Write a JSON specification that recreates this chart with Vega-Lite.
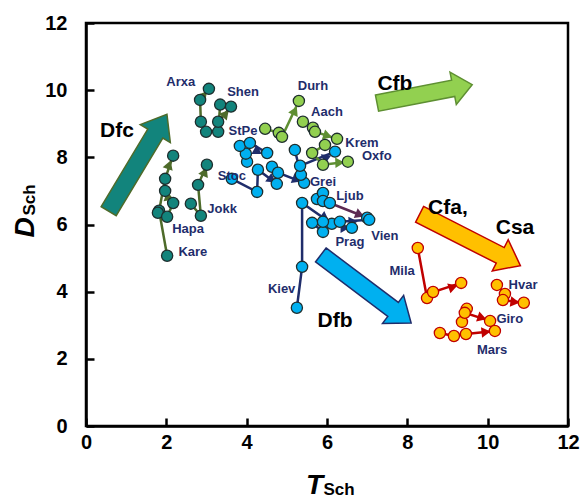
{
  "$schema": "https://vega.github.io/schema/vega-lite/v6.json",
  "width": 482,
  "height": 403,
  "autosize": {"type": "none"},
  "padding": {"left": 86, "top": 23, "right": 17, "bottom": 73},
  "background": "white",
  "config": {"view": {"stroke": "black", "strokeWidth": 2.5}, "font": "Liberation Sans"},
  "datasets": {
    "big": [
      {"zone": "Dfc", "T": 1.29, "D": 7.84, "heading": -59},
      {"zone": "Dfb", "T": 6.97, "D": 4.08, "heading": 37},
      {"zone": "Cfa", "T": 9.56, "D": 5.54, "heading": 27}
    ],
    "big2": [
      {"zone": "Cfb", "T": 8.43, "D": 9.89, "heading": -11}
    ],
    "traj": [
      {"city": "Kare", "zone": "Dfc", "s": 1, "T": 2.02, "D": 5.07},
      {"city": "Kare", "zone": "Dfc", "s": 2, "T": 1.82, "D": 6.41},
      {"city": "Kare", "zone": "Dfc", "s": 3, "T": 1.97, "D": 7.36},
      {"city": "Kare", "zone": "Dfc", "s": 4, "T": 2.17, "D": 8.05},
      {"city": "Hapa", "zone": "Dfc", "s": 1, "T": 1.79, "D": 6.35},
      {"city": "Hapa", "zone": "Dfc", "s": 2, "T": 2.02, "D": 6.23},
      {"city": "Hapa", "zone": "Dfc", "s": 3, "T": 2.17, "D": 6.64},
      {"city": "Hapa", "zone": "Dfc", "s": 4, "T": 1.97, "D": 7.0},
      {"city": "Jokk", "zone": "Dfc", "s": 1, "T": 2.61, "D": 6.62},
      {"city": "Jokk", "zone": "Dfc", "s": 2, "T": 2.86, "D": 6.26},
      {"city": "Jokk", "zone": "Dfc", "s": 3, "T": 2.79, "D": 7.18},
      {"city": "Jokk", "zone": "Dfc", "s": 4, "T": 3.01, "D": 7.78},
      {"city": "Arxa", "zone": "Dfc", "s": 1, "T": 2.99, "D": 8.76},
      {"city": "Arxa", "zone": "Dfc", "s": 2, "T": 2.86, "D": 9.06},
      {"city": "Arxa", "zone": "Dfc", "s": 3, "T": 2.84, "D": 9.71},
      {"city": "Arxa", "zone": "Dfc", "s": 4, "T": 3.06, "D": 10.04},
      {"city": "Shen", "zone": "Dfc", "s": 1, "T": 3.34, "D": 9.57},
      {"city": "Shen", "zone": "Dfc", "s": 2, "T": 3.29, "D": 8.76},
      {"city": "Shen", "zone": "Dfc", "s": 3, "T": 3.29, "D": 9.06},
      {"city": "Shen", "zone": "Dfc", "s": 4, "T": 3.61, "D": 9.51},
      {"city": "StPe", "zone": "Dfb", "s": 1, "T": 4.01, "D": 7.87},
      {"city": "StPe", "zone": "Dfb", "s": 2, "T": 3.98, "D": 8.11},
      {"city": "StPe", "zone": "Dfb", "s": 3, "T": 3.83, "D": 8.34},
      {"city": "StPe", "zone": "Dfb", "s": 4, "T": 4.08, "D": 8.43},
      {"city": "StPe", "zone": "Dfb", "s": 5, "T": 4.51, "D": 8.13},
      {"city": "Stoc", "zone": "Dfb", "s": 1, "T": 3.63, "D": 7.36},
      {"city": "Stoc", "zone": "Dfb", "s": 2, "T": 4.26, "D": 6.97},
      {"city": "Stoc", "zone": "Dfb", "s": 3, "T": 4.28, "D": 7.63},
      {"city": "Stoc", "zone": "Dfb", "s": 4, "T": 4.75, "D": 7.21},
      {"city": "Grei", "zone": "Dfb", "s": 1, "T": 4.63, "D": 7.72},
      {"city": "Grei", "zone": "Dfb", "s": 2, "T": 4.78, "D": 7.54},
      {"city": "Grei", "zone": "Dfb", "s": 3, "T": 5.43, "D": 7.24},
      {"city": "Krem", "zone": "Dfb", "s": 1, "T": 5.2, "D": 8.22},
      {"city": "Krem", "zone": "Dfb", "s": 2, "T": 5.35, "D": 7.48},
      {"city": "Krem", "zone": "Dfb", "s": 3, "T": 5.33, "D": 7.75},
      {"city": "Krem", "zone": "Dfb", "s": 4, "T": 6.2, "D": 8.17},
      {"city": "Kiev", "zone": "Dfb", "s": 1, "T": 5.25, "D": 3.52},
      {"city": "Kiev", "zone": "Dfb", "s": 2, "T": 5.38, "D": 4.74},
      {"city": "Kiev", "zone": "Dfb", "s": 3, "T": 5.38, "D": 6.64},
      {"city": "Kiev", "zone": "Dfb", "s": 4, "T": 6.12, "D": 6.02},
      {"city": "Ljub", "zone": "Dfb", "s": 1, "T": 5.75, "D": 6.76},
      {"city": "Ljub", "zone": "Dfb", "s": 2, "T": 5.9, "D": 6.94},
      {"city": "Ljub", "zone": "Dfb", "s": 3, "T": 5.9, "D": 6.7},
      {"city": "Ljub", "zone": "Dfb", "s": 4, "T": 6.07, "D": 6.64},
      {"city": "Ljub", "zone": "Dfb", "s": 5, "T": 7.0, "D": 6.2},
      {"city": "Prag", "zone": "Dfb", "s": 1, "T": 5.63, "D": 6.05},
      {"city": "Prag", "zone": "Dfb", "s": 2, "T": 5.9, "D": 5.78},
      {"city": "Prag", "zone": "Dfb", "s": 3, "T": 5.9, "D": 6.08},
      {"city": "Prag", "zone": "Dfb", "s": 4, "T": 6.62, "D": 5.9},
      {"city": "Vien", "zone": "Dfb", "s": 1, "T": 6.32, "D": 6.08},
      {"city": "Vien", "zone": "Dfb", "s": 2, "T": 7.05, "D": 6.14},
      {"city": "Durh", "zone": "Cfb", "s": 1, "T": 4.46, "D": 8.85},
      {"city": "Durh", "zone": "Cfb", "s": 2, "T": 4.8, "D": 8.73},
      {"city": "Durh", "zone": "Cfb", "s": 3, "T": 4.88, "D": 8.61},
      {"city": "Durh", "zone": "Cfb", "s": 4, "T": 5.3, "D": 9.68},
      {"city": "Aach", "zone": "Cfb", "s": 1, "T": 5.4, "D": 9.06},
      {"city": "Aach", "zone": "Cfb", "s": 2, "T": 5.65, "D": 8.88},
      {"city": "Aach", "zone": "Cfb", "s": 3, "T": 5.7, "D": 8.76},
      {"city": "Aach", "zone": "Cfb", "s": 4, "T": 6.25, "D": 8.55},
      {"city": "Oxfo", "zone": "Cfb", "s": 1, "T": 5.95, "D": 8.37},
      {"city": "Oxfo", "zone": "Cfb", "s": 2, "T": 5.63, "D": 8.13},
      {"city": "Oxfo", "zone": "Cfb", "s": 3, "T": 5.9, "D": 7.78},
      {"city": "Oxfo", "zone": "Cfb", "s": 4, "T": 6.52, "D": 7.87},
      {"city": "Mila", "zone": "Cfa", "s": 1, "T": 8.26, "D": 5.3},
      {"city": "Mila", "zone": "Cfa", "s": 2, "T": 8.49, "D": 3.81},
      {"city": "Mila", "zone": "Cfa", "s": 3, "T": 8.64, "D": 3.99},
      {"city": "Mila", "zone": "Cfa", "s": 4, "T": 9.34, "D": 4.26},
      {"city": "Hvar", "zone": "Cfa", "s": 1, "T": 10.23, "D": 4.2},
      {"city": "Hvar", "zone": "Cfa", "s": 2, "T": 10.43, "D": 3.93},
      {"city": "Hvar", "zone": "Cfa", "s": 3, "T": 10.38, "D": 3.75},
      {"city": "Hvar", "zone": "Cfa", "s": 4, "T": 10.9, "D": 3.67},
      {"city": "Giro", "zone": "Cfa", "s": 1, "T": 9.48, "D": 3.49},
      {"city": "Giro", "zone": "Cfa", "s": 2, "T": 9.36, "D": 3.1},
      {"city": "Giro", "zone": "Cfa", "s": 3, "T": 9.43, "D": 3.37},
      {"city": "Giro", "zone": "Cfa", "s": 4, "T": 10.06, "D": 3.13},
      {"city": "Mars", "zone": "Cfa", "s": 1, "T": 8.81, "D": 2.77},
      {"city": "Mars", "zone": "Cfa", "s": 2, "T": 9.16, "D": 2.68},
      {"city": "Mars", "zone": "Cfa", "s": 3, "T": 9.46, "D": 2.74},
      {"city": "Mars", "zone": "Cfa", "s": 4, "T": 10.18, "D": 2.83}
    ],
    "heads": [
      {"city": "Kare", "zone": "Dfc", "T": 2.07, "D": 7.78, "heading": -71},
      {"city": "Hapa", "zone": "Dfc", "T": 2.04, "D": 6.85, "heading": -100},
      {"city": "Jokk", "zone": "Dfc", "T": 2.96, "D": 7.57, "heading": -66},
      {"city": "Arxa", "zone": "Dfc", "T": 2.94, "D": 9.86, "heading": -51},
      {"city": "Shen", "zone": "Dfc", "T": 3.48, "D": 9.3, "heading": -49},
      {"city": "StPe", "zone": "Dfb", "T": 4.28, "D": 8.17, "heading": 30},
      {"city": "Stoc", "zone": "Dfb", "T": 4.63, "D": 7.33, "heading": 36},
      {"city": "Grei", "zone": "Dfb", "T": 5.25, "D": 7.33, "heading": 21},
      {"city": "Krem", "zone": "Dfb", "T": 6.0, "D": 8.0, "heading": -23},
      {"city": "Kiev", "zone": "Dfb", "T": 5.95, "D": 6.2, "heading": 35},
      {"city": "Ljub", "zone": "Dfb", "T": 6.82, "D": 6.29, "heading": 22},
      {"city": "Prag", "zone": "Dfb", "T": 6.45, "D": 5.9, "heading": 0},
      {"city": "Vien", "zone": "Dfb", "T": 6.65, "D": 6.08, "heading": -3},
      {"city": "Durh", "zone": "Cfb", "T": 5.2, "D": 9.39, "heading": -65},
      {"city": "Aach", "zone": "Cfb", "T": 6.02, "D": 8.64, "heading": 18},
      {"city": "Oxfo", "zone": "Cfb", "T": 6.32, "D": 7.84, "heading": -2},
      {"city": "Mila", "zone": "Cfa", "T": 9.14, "D": 4.14, "heading": -18},
      {"city": "Hvar", "zone": "Cfa", "T": 10.68, "D": 3.69, "heading": 8},
      {"city": "Giro", "zone": "Cfa", "T": 9.86, "D": 3.22, "heading": 18},
      {"city": "Mars", "zone": "Cfa", "T": 9.96, "D": 2.8, "heading": -6}
    ],
    "labels": [
      {"name": "Arxa", "T": 2.36, "D": 10.23},
      {"name": "Shen", "T": 3.91, "D": 9.95},
      {"name": "Durh", "T": 5.65, "D": 10.13},
      {"name": "Aach", "T": 6.0, "D": 9.34},
      {"name": "Krem", "T": 6.87, "D": 8.43},
      {"name": "Oxfo", "T": 7.24, "D": 8.05},
      {"name": "StPe", "T": 3.91, "D": 8.78},
      {"name": "Stoc", "T": 3.63, "D": 7.45},
      {"name": "Grei", "T": 5.9, "D": 7.28},
      {"name": "Ljub", "T": 6.57, "D": 6.85},
      {"name": "Vien", "T": 7.44, "D": 5.66},
      {"name": "Prag", "T": 6.57, "D": 5.48},
      {"name": "Kiev", "T": 4.87, "D": 4.07},
      {"name": "Jokk", "T": 3.39, "D": 6.47},
      {"name": "Hapa", "T": 2.54, "D": 5.87},
      {"name": "Kare", "T": 2.66, "D": 5.18},
      {"name": "Mila", "T": 7.87, "D": 4.62},
      {"name": "Hvar", "T": 10.88, "D": 4.2},
      {"name": "Giro", "T": 10.55, "D": 3.19},
      {"name": "Mars", "T": 10.11, "D": 2.26}
    ],
    "zones": [
      {"name": "Dfc", "T": 0.77, "D": 8.79},
      {"name": "Cfb", "T": 7.69, "D": 10.19},
      {"name": "Dfb", "T": 6.2, "D": 3.13},
      {"name": "Cfa,", "T": 9.01, "D": 6.5},
      {"name": "Csa", "T": 10.68, "D": 5.9}
    ]
  },
  "encoding": {
    "x": {
      "field": "T", "type": "quantitative",
      "scale": {"domain": [0, 12], "nice": false, "zero": false},
      "axis": {
        "values": [0, 2, 4, 6, 8, 10, 12], "grid": false,
        "domainColor": "black", "domainWidth": 2.5,
        "tickColor": "black", "tickWidth": 2.5, "tickSize": -8,
        "labelFont": "Liberation Sans", "labelFontWeight": "bold", "labelFontSize": 20, "labelColor": "black",
        "labelPadding": 14, "labelFlush": false, "labelOverlap": false,
        "title": "T", "titleFont": "Liberation Sans", "titleFontStyle": "italic", "titleFontWeight": "bold",
        "titleFontSize": 28, "titleColor": "black", "titleX": 228, "titleY": 67, "titleBaseline": "alphabetic", "titleAlign": "center"
      }
    },
    "y": {
      "field": "D", "type": "quantitative",
      "scale": {"domain": [0, 12], "nice": false, "zero": false},
      "axis": {
        "values": [0, 2, 4, 6, 8, 10, 12], "grid": false,
        "domainColor": "black", "domainWidth": 2.5,
        "tickColor": "black", "tickWidth": 2.5, "tickSize": -8,
        "labelFont": "Liberation Sans", "labelFontWeight": "bold", "labelFontSize": 20, "labelColor": "black",
        "labelPadding": 27, "labelFlush": false, "labelOverlap": false,
        "title": "D", "titleFont": "Liberation Sans", "titleFontStyle": "italic", "titleFontWeight": "bold",
        "titleFontSize": 28, "titleColor": "black", "titleX": -53, "titleY": 204, "titleBaseline": "alphabetic", "titleAlign": "center", "titleAngle": 270
      }
    }
  },
  "layer": [
    {
      "data": {"name": "big"},
      "mark": {"type": "point", "filled": true, "shape": "M-1,-0.155L0.6,-0.155L0.6,-0.31L1,0L0.6,0.31L0.6,0.155L-1,0.155Z", "size": 12800, "strokeWidth": 1.5, "opacity": 1},
      "encoding": {
        "angle": {"field": "heading", "type": "quantitative", "scale": null},
        "fill": {"field": "zone", "type": "nominal", "scale": {"domain": ["Dfc", "Dfb", "Cfb", "Cfa"], "range": ["#12847C", "#00B0F0", "#92D050", "#FFC000"]}, "legend": null},
        "stroke": {"field": "zone", "type": "nominal", "scale": {"domain": ["Dfc", "Dfb", "Cfb", "Cfa"], "range": ["#4E6B2A", "#1F2D6B", "#5E8F32", "#C00000"]}, "legend": null}
      }
    },
    {
      "data": {"name": "big2"},
      "mark": {"type": "point", "filled": true, "shape": "M-1,-0.17L0.6,-0.17L0.6,-0.34L1,0L0.6,0.34L0.6,0.17L-1,0.17Z", "size": 9400, "strokeWidth": 1.5, "opacity": 1},
      "encoding": {
        "angle": {"field": "heading", "type": "quantitative", "scale": null},
        "fill": {"field": "zone", "type": "nominal", "scale": {"domain": ["Dfc", "Dfb", "Cfb", "Cfa"], "range": ["#12847C", "#00B0F0", "#92D050", "#FFC000"]}, "legend": null},
        "stroke": {"field": "zone", "type": "nominal", "scale": {"domain": ["Dfc", "Dfb", "Cfb", "Cfa"], "range": ["#4E6B2A", "#1F2D6B", "#5E8F32", "#C00000"]}, "legend": null}
      }
    },
    {
      "data": {"name": "traj"},
      "mark": {"type": "line", "strokeWidth": 2.5},
      "encoding": {
        "detail": {"field": "city", "type": "nominal"},
        "order": {"field": "s", "type": "quantitative"},
        "stroke": {
          "condition": {"test": "datum.city === 'Ljub'", "value": "#5C2A52"},
          "field": "zone", "type": "nominal",
          "scale": {"domain": ["Dfc", "Dfb", "Cfb", "Cfa"], "range": ["#4E6B2A", "#1F2D6B", "#5E8F32", "#C00000"]}, "legend": null
        }
      }
    },
    {
      "data": {"name": "heads"},
      "mark": {"type": "point", "filled": true, "shape": "triangle-right", "size": 110, "opacity": 1},
      "encoding": {
        "angle": {"field": "heading", "type": "quantitative", "scale": null},
        "color": {
          "condition": {"test": "datum.city === 'Ljub'", "value": "#5C2A52"},
          "field": "zone", "type": "nominal",
          "scale": {"domain": ["Dfc", "Dfb", "Cfb", "Cfa"], "range": ["#4E6B2A", "#1F2D6B", "#5E8F32", "#C00000"]}, "legend": null
        }
      }
    },
    {
      "data": {"name": "traj"},
      "mark": {"type": "point", "filled": true, "size": 125, "strokeWidth": 1.3, "opacity": 1, "shape": "circle"},
      "encoding": {
        "fill": {"field": "zone", "type": "nominal", "scale": {"domain": ["Dfc", "Dfb", "Cfb", "Cfa"], "range": ["#12847C", "#00B0F0", "#92D050", "#FFC000"]}, "legend": null},
        "stroke": {"condition": {"test": "datum.zone === 'Cfa'", "value": "#C00000"}, "value": "#1E2E2E"}
      }
    },
    {
      "data": {"name": "labels"},
      "mark": {"type": "text", "font": "Liberation Sans", "fontWeight": "bold", "fontSize": 13, "color": "#1F2D6B", "align": "center", "baseline": "middle"},
      "encoding": {"text": {"field": "name", "type": "nominal"}}
    },
    {
      "data": {"name": "zones"},
      "mark": {"type": "text", "font": "Liberation Sans", "fontWeight": "bold", "fontSize": 21, "color": "black", "align": "center", "baseline": "middle"},
      "encoding": {"text": {"field": "name", "type": "nominal"}}
    },
    {
      "data": {"values": [{"sub": "Sch", "T": 6.3, "D": -2.04}]},
      "mark": {"type": "text", "font": "Liberation Sans", "fontWeight": "bold", "fontSize": 17, "color": "black", "align": "center", "baseline": "alphabetic"},
      "encoding": {"text": {"field": "sub", "type": "nominal"}}
    },
    {
      "data": {"values": [{"sub": "Sch", "T": -1.27, "D": 6.73}]},
      "mark": {"type": "text", "font": "Liberation Sans", "fontWeight": "bold", "fontSize": 17, "color": "black", "align": "center", "baseline": "alphabetic", "angle": 270},
      "encoding": {"text": {"field": "sub", "type": "nominal"}}
    }
  ]
}
